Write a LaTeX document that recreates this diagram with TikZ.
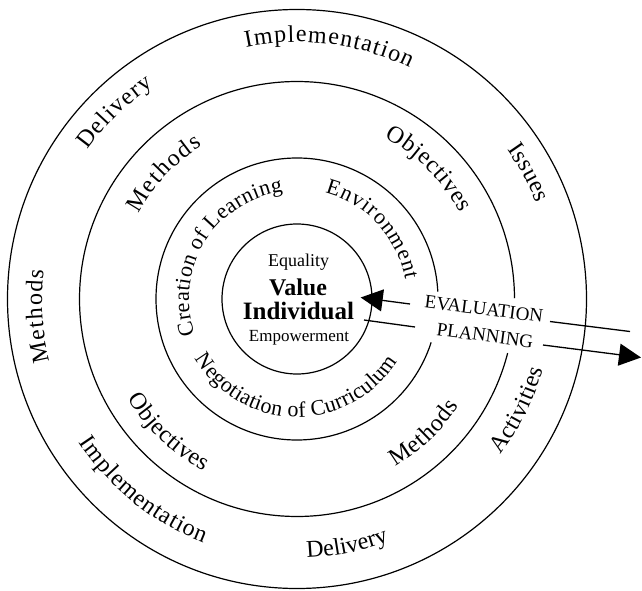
\documentclass[tikz,border=0pt]{standalone}
\usepackage{fontspec}
\setmainfont{Liberation Serif}
\usetikzlibrary{decorations.text,arrows.meta,calc}

% text set along an arc round the common centre (C):
% #1 radius, #2 start angle, #3 end angle, #4 font, #5 text
\newcommand{\arclabel}[5]{%
  \path[decorate,decoration={text along path,text align={fit to path},
        text={|#4|#5}}]
    ($(C)+(#2:#1)$) arc[start angle=#2,end angle=#3,radius=#1];}
\newcommand{\bigfont}{\fontsize{24}{24}\selectfont}
\newcommand{\smallfont}{\fontsize{22}{22}\selectfont}

\begin{document}
\begin{tikzpicture}[x=1pt,y=1pt,
  ring/.style={line width=1.2pt},
  shaft/.style={line width=1.3pt},
  head/.style={-{Triangle[length=22pt,width=22pt]}},
  core/.style={anchor=base,inner sep=0pt},
  flow/.style={font=\fontsize{19}{19}\selectfont,inner sep=0pt}]
\useasboundingbox (0,0) rectangle (642,-591);
\fill[white] (0,0) rectangle (642,-591);

\coordinate (C) at (297,-299);

% rings
\draw[ring] (C) circle[radius=289.5];
\draw[ring] ($(C)+(0.2:217.5)$) arc[start angle=0.2,end angle=345.6,radius=217.5];
\draw[ring] ($(C)+(3:141)$) arc[start angle=3,end angle=342.1,radius=141];
\node[circle,draw,ring,minimum size=150pt,inner sep=0pt] (hub) at (C) {};

% centre
\node[core,font=\fontsize{18}{18}\selectfont] (eq) at (298.5,-266) {Equality};
\node[core,font=\bfseries\fontsize{24}{24}\selectfont] (val) at (298,-295) {Value};
\node[core,font=\bfseries\fontsize{25}{25}\selectfont] (ind) at (298.5,-319) {Individual};
\node[core,font=\fontsize{17}{17}\selectfont] (emp) at (299,-341) {Empowerment};

% outer ring
\arclabel{257}{101.5}{64}{\bigfont}{Implementation}
\arclabel{257}{144.5}{124}{\bigfont}{Delivery}
\arclabel{258}{35.5}{21.8}{\bigfont}{Issues}
\arclabel{255}{194.2}{173.4}{\bigfont}{Methods}
\arclabel{261}{213.3}{249}{\bigfont}{Implementation}
\arclabel{259}{272.2}{290.5}{\bigfont}{Delivery}
\arclabel{256}{322.5}{344}{\bigfont}{Activities}

% second ring
\arclabel{180}{151.7}{121.7}{\bigfont}{Methods}
\arclabel{184}{61.5}{27.8}{\bigfont}{Objectives}
\arclabel{196}{210.5}{241.5}{\bigfont}{Objectives}
\arclabel{194}{300.3}{326.6}{\bigfont}{Methods}

% third ring
\arclabel{108}{199}{97.5}{\smallfont}{Creation of Learning}
\arclabel{110}{75.2}{10}{\smallfont}{Environment}
\arclabel{118}{210.3}{328}{\smallfont}{Negotiation of Curriculum}

% evaluation and planning
\node[flow,rotate=-7.2] (ev) at (484,-309) {EVALUATION};
\node[flow,rotate=-7.6] (pl) at (485,-335.5) {PLANNING};

\coordinate (evTip) at (360.7,-297.5);
\coordinate (evA) at (410,-304);
\coordinate (evB) at (550,-321.5);
\coordinate (evEnd) at (630,-331.5);
\coordinate (plStart) at (364,-320);
\coordinate (plA) at (415,-327);
\coordinate (plB) at (543,-345);
\coordinate (plTip) at (641,-357.5);

\draw[shaft,head] (evA) -- (evTip);
\draw[shaft] (evB) -- (evEnd);
\draw[shaft] (plStart) -- (plA);
\draw[shaft,head] (plB) -- (plTip);
\end{tikzpicture}
\end{document}
